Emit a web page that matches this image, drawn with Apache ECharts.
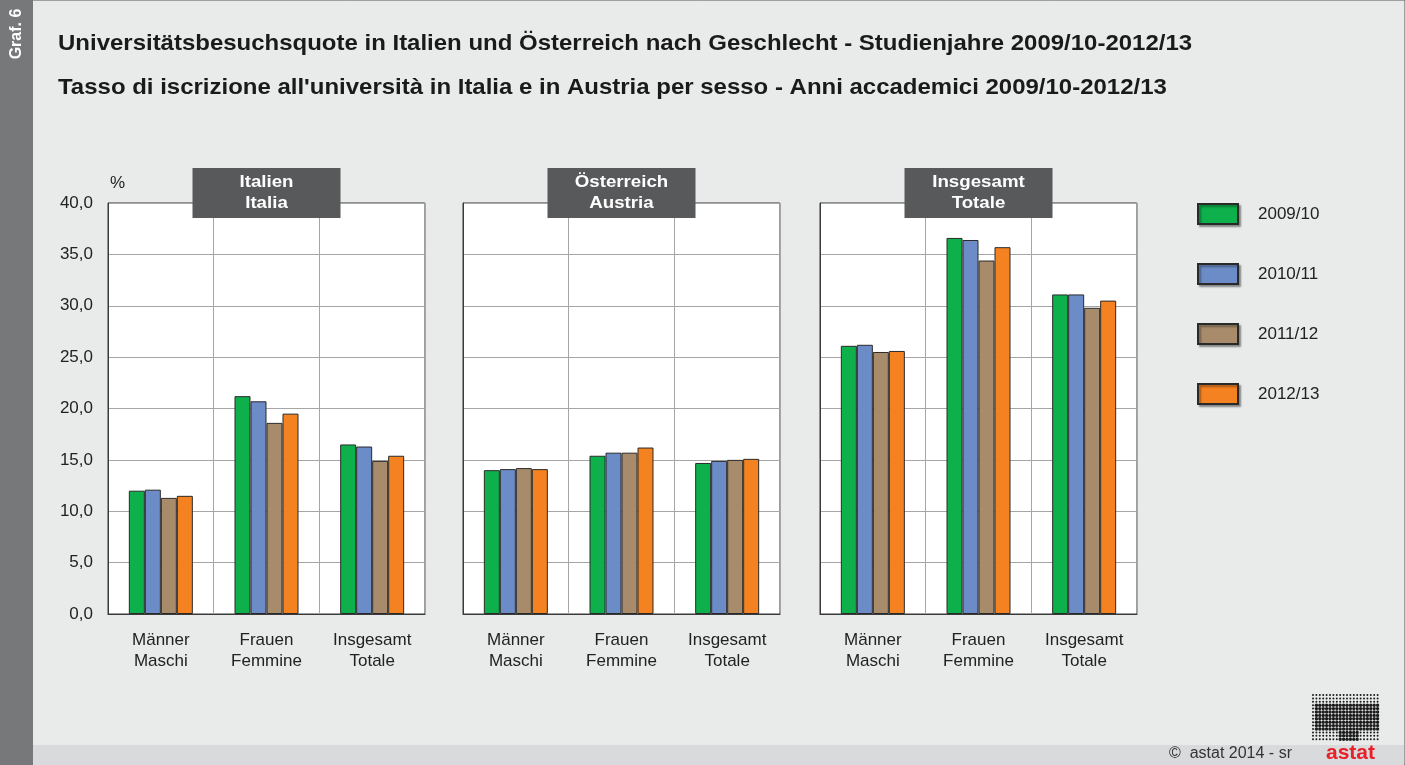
<!DOCTYPE html>
<html>
<head>
<meta charset="utf-8">
<script src="https://cdn.jsdelivr.net/npm/echarts@6/dist/echarts.min.js"></script>
<style>
html,body{margin:0;padding:0;background:#e9eaea;}
#chart{width:1405px;height:765px;}
</style>
</head>
<body>
<div id="chart"></div>
<script>
// Daten
var categories = ["Männer\nMaschi", "Frauen\nFemmine", "Insgesamt\nTotale"];
var years = ["2009/10", "2010/11", "2011/12", "2012/13"];
var panelTitles = ["Italien\nItalia", "Österreich\nAustria", "Insgesamt\nTotale"];
var yTicks = [0, 5, 10, 15, 20, 25, 30, 35, 40];

// je Jahr: Männer, Frauen, Insgesamt
var italien = [
    [12.0, 21.2, 16.5],
    [12.1, 20.7, 16.3],
    [11.3, 18.6, 14.9],
    [11.5, 19.5, 15.4]
];
var oesterreich = [
    [14.0, 15.4, 14.7],
    [14.1, 15.7, 14.9],
    [14.2, 15.7, 15.0],
    [14.1, 16.2, 15.1]
];
var insgesamt = [
    [26.1, 36.6, 31.1],
    [26.2, 36.4, 31.1],
    [25.5, 34.4, 29.8],
    [25.6, 35.7, 30.5]
];
var panels = [italien, oesterreich, insgesamt];

var colors = ["#0db04b", "#6b8cc7", "#a88b6a", "#f58220"];
var font = "'Liberation Sans', Arial, sans-serif";

var gridLeft = [108, 463, 820];
var gridWidth = 317;
var gridTop = 203;
var gridHeight = 411;

var grids = [], xAxes = [], yAxes = [], series = [], graphics = [];

// Hintergrund, linker Streifen, Fußzeile
graphics.push({type: "rect", shape: {x: 0, y: 0, width: 1405, height: 765}, style: {fill: "#e9eaea", stroke: "#555", lineWidth: 1}, z: -10});
graphics.push({type: "rect", shape: {x: 0, y: 0, width: 33, height: 765}, style: {fill: "#77787a"}, z: -9});
graphics.push({type: "text", x: 17, y: 34, rotation: Math.PI / 2, style: {text: "Graf. 6", fill: "#fff", font: "bold 16px " + font, textAlign: "center", textVerticalAlign: "middle"}});
graphics.push({type: "rect", shape: {x: 33, y: 745, width: 1371, height: 20}, style: {fill: "#d9dadb"}, z: -9});
graphics.push({type: "text", left: 1169, top: 746, style: {text: "©  astat 2014 - sr", fill: "#333", font: "16px " + font}});
graphics.push({type: "text", left: 1326, top: 743, style: {text: "astat", fill: "#e8202a", font: "bold 21px " + font}});

// Titel (leicht gesperrt wie im Original)
graphics.push({type: "text", x: 58, y: 44, scaleX: 1.09, style: {text: "Universitätsbesuchsquote in Italien und Österreich nach Geschlecht - Studienjahre 2009/10-2012/13", fill: "#1a1a1a", font: "bold 22px " + font, textVerticalAlign: "middle"}});
graphics.push({type: "text", x: 58, y: 88, scaleX: 1.09, style: {text: "Tasso di iscrizione all'università in Italia e in Austria per sesso - Anni accademici 2009/10-2012/13", fill: "#1a1a1a", font: "bold 22px " + font, textVerticalAlign: "middle"}});
graphics.push({type: "text", x: 110, y: 183, style: {text: "%", fill: "#222", font: "17px " + font, textVerticalAlign: "middle"}});

// Logo (Punktraster)
for (var r = 0; r < 14; r++) {
    for (var c = 0; c < 20; c++) {
        var cx = 1313 + c * 3.4, cy = 695 + r * 3.4;
        var inside = (r >= 3 && r <= 10 && c >= 1 && c <= 19) || (r > 10 && c >= 8 && c <= 13);
        graphics.push({type: "circle", shape: {cx: cx, cy: cy, r: inside ? 1.7 : 1.0}, style: {fill: "#1a1a1a"}, silent: true});
    }
}

for (var p = 0; p < 3; p++) {
    grids.push({left: gridLeft[p], top: gridTop, width: gridWidth, height: gridHeight,
        show: true, backgroundColor: "#fff", borderColor: "#3a3a3a", borderWidth: 1});
    xAxes.push({type: "category", gridIndex: p, data: categories,
        axisLine: {lineStyle: {color: "#3a3a3a"}},
        axisTick: {show: false},
        splitLine: {show: true, lineStyle: {color: "#a6a6a6", width: 1}},
        axisLabel: {color: "#222", fontFamily: font, fontSize: 17, lineHeight: 21, margin: 16}});
    yAxes.push({type: "value", gridIndex: p, min: 0, max: 40, interval: 5,
        axisLine: {show: true, lineStyle: {color: "#3a3a3a"}},
        axisTick: {show: false},
        splitLine: {lineStyle: {color: "#a6a6a6", width: 1}},
        axisLabel: {show: p === 0, color: "#222", fontFamily: font, fontSize: 17, margin: 15,
            formatter: function (v) { return yTicks.indexOf(v) >= 0 ? v.toFixed(1).replace(".", ",") : ""; }}});
    for (var s = 0; s < 4; s++) {
        series.push({name: years[s], type: "bar", xAxisIndex: p, yAxisIndex: p,
            data: panels[p][s], barWidth: 16, barGap: "0%",
            itemStyle: {color: colors[s], borderColor: "#2a2a2a", borderWidth: 1}});
    }
    // Panel-Titelbox
    var cxp = gridLeft[p] + gridWidth / 2;
    graphics.push({type: "rect", shape: {x: cxp - 74, y: 168, width: 148, height: 50}, style: {fill: "#58595b"}, z: 100});
    graphics.push({type: "text", x: cxp, y: 193, scaleX: 1.1, z: 101, style: {text: panelTitles[p], fill: "#fff", font: "bold 17px " + font, textAlign: "center", textVerticalAlign: "middle", lineHeight: 21}});
}

var chart = echarts.init(document.getElementById("chart"));
chart.setOption({
    backgroundColor: "#e9eaea",
    animation: false,
    color: colors,
    grid: grids,
    xAxis: xAxes,
    yAxis: yAxes,
    series: series,
    legend: {data: years, orient: "vertical", left: 1192, top: 198, icon: "rect", itemWidth: 40, itemHeight: 20, itemGap: 38,
        textStyle: {color: "#222", fontFamily: font, fontSize: 17, padding: [0, 0, 0, 15]},
        itemStyle: {shadowColor: "rgba(0,0,0,0.35)", shadowBlur: 2, shadowOffsetX: 2, shadowOffsetY: 2}},
    graphic: graphics
});
</script>
</body>
</html>
